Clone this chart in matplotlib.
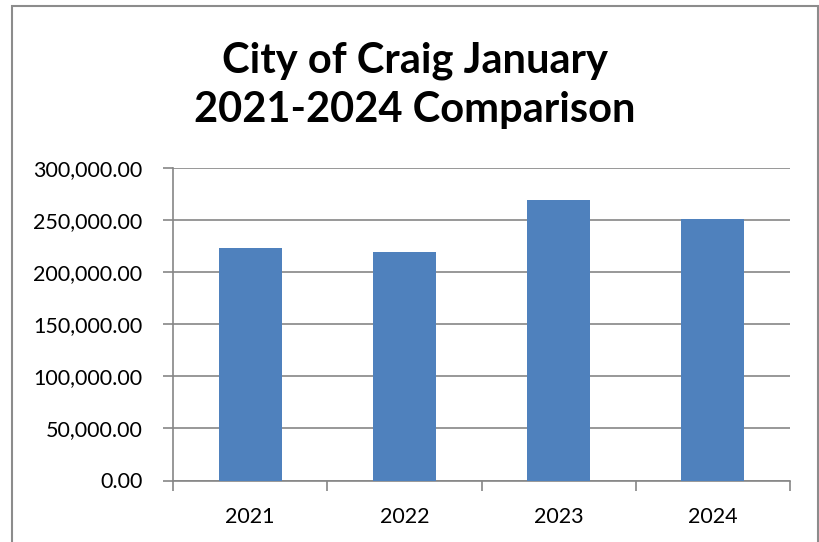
import matplotlib
matplotlib.use('Agg')
import matplotlib.pyplot as plt
from matplotlib.patches import Rectangle
from matplotlib.ticker import FuncFormatter, MultipleLocator, FixedLocator

# Data
years = ['2021', '2022', '2023', '2024']
revenue = [223600, 219700, 269700, 251400]

BAR_COLOR = '#4F81BD'
GRID_COLOR = '#868686'

plt.rcParams['font.family'] = ['Lato', 'DejaVu Sans']

fig = plt.figure(figsize=(8.19, 5.42), dpi=100)
fig.patch.set_facecolor('white')

# chart area border (Excel style)
fig.patches.append(Rectangle((12 / 819, -0.05), (818 - 12) / 819, 1.05 - 6 / 542,
                             transform=fig.transFigure, fill=False,
                             edgecolor='#8c8c8c', linewidth=1.5))

ax = fig.add_axes([173 / 819, 1 - 480.5 / 542, (790 - 173) / 819, (480.5 - 168.3) / 542])

x = range(len(years))
ax.bar(x, revenue, width=0.41, color=BAR_COLOR, zorder=3)

ax.set_xlim(-0.5, len(years) - 0.5)
ax.set_ylim(0, 300000)
ax.yaxis.set_major_locator(MultipleLocator(50000))
ax.yaxis.set_major_formatter(FuncFormatter(lambda v, p: f'{v:,.2f}'))
ax.grid(axis='y', color=GRID_COLOR, linewidth=1.2, zorder=0)

ax.set_xticks(list(x))
ax.set_xticklabels(years)
ax.xaxis.set_minor_locator(FixedLocator([i - 0.5 for i in range(len(years) + 1)]))
ax.tick_params(axis='x', which='major', length=0, pad=19, labelsize=15.5)
ax.tick_params(axis='x', which='minor', length=7, width=1.2, color=GRID_COLOR, direction='out')
ax.tick_params(axis='y', length=7, width=1.2, color=GRID_COLOR, pad=15, labelsize=15.5)

for side in ['top', 'right']:
    ax.spines[side].set_visible(False)
for side in ['left', 'bottom']:
    ax.spines[side].set_color(GRID_COLOR)
    ax.spines[side].set_linewidth(1.2)

fig.text(0.507, 1 - 85 / 542, 'City of Craig January\n2021-2024 Comparison',
         ha='center', va='center', fontsize=30, fontweight='bold',
         linespacing=1.35)

fig.savefig('out.png', dpi=100, facecolor='white')
